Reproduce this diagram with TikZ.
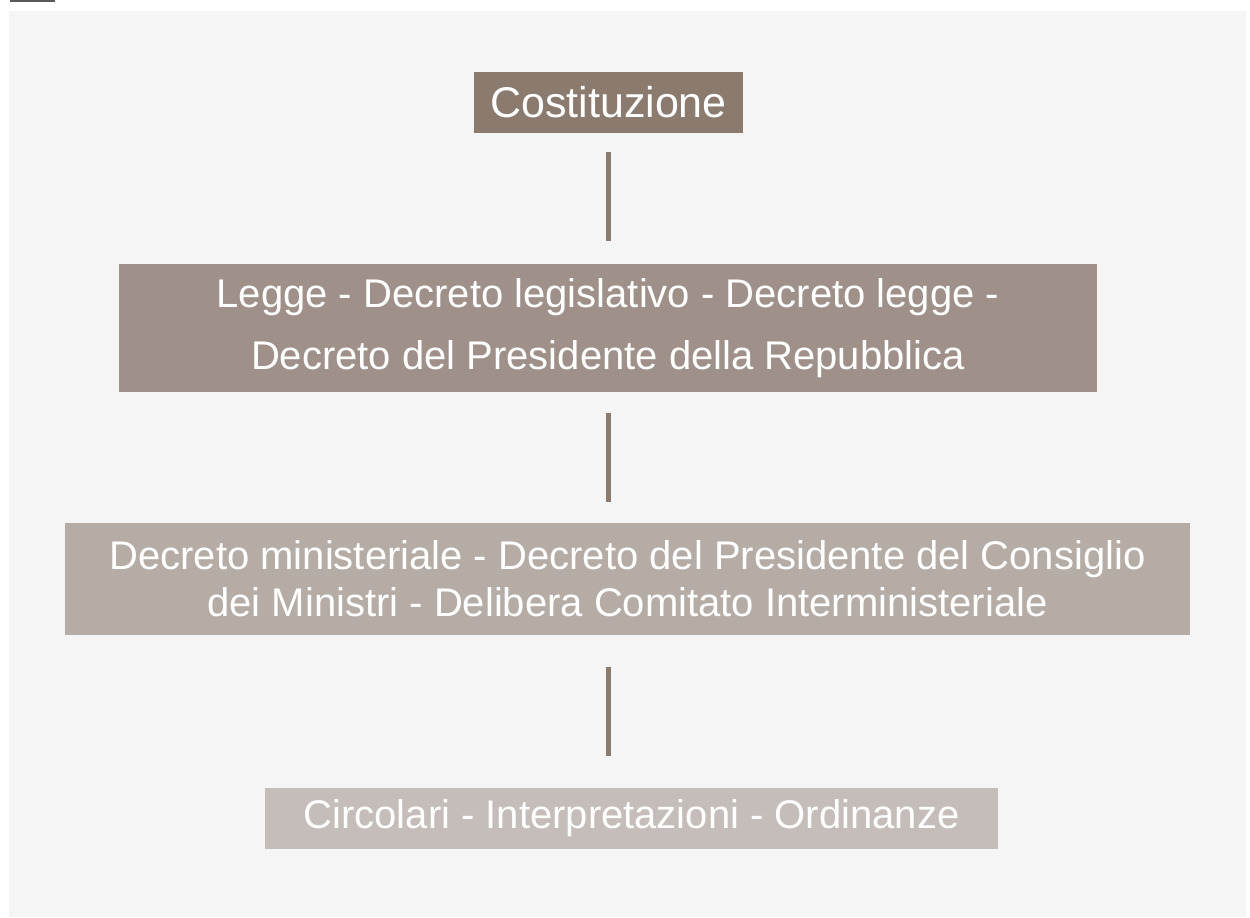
\documentclass[tikz,border=0pt]{standalone}
\usepackage{fontspec}
\setmainfont{Liberation Sans}
\definecolor{panel}{HTML}{F5F5F5}
\definecolor{cA}{HTML}{8B7A6E}
\definecolor{cB}{HTML}{9F918A}
\definecolor{cC}{HTML}{B5ACA6}
\definecolor{cD}{HTML}{C5BDB9}
\begin{document}
\begin{tikzpicture}[x=1pt,y=-1pt,
  lvbox/.style={inner sep=0pt, outer sep=0pt, text=white, align=center, anchor=center},
  conn/.style={draw=cA, line width=5pt, line cap=butt}]
\useasboundingbox (0,0) rectangle (1250,918);
\fill[white] (0,0) rectangle (1250,918);
\fill[panel] (9,11) rectangle (1246,917);
\fill[black!65] (10,0) rectangle (55,1.5);
\node[lvbox, fill=cA, minimum width=269pt, minimum height=61pt,
  font=\fontsize{43}{50}\selectfont] (costituzione) at (608.5,102.5) {Costituzione};
\node[lvbox, fill=cB, minimum width=978pt, minimum height=128pt,
  font=\fontsize{40}{62}\selectfont] (legge) at (608,328)
  {Legge - Decreto legislativo - Decreto legge -\\Decreto del Presidente della Repubblica};
\node[lvbox, fill=cC, minimum width=1125pt, minimum height=112pt,
  font=\fontsize{40}{47}\selectfont] (decreto) at (627.5,579)
  {Decreto ministeriale - Decreto del Presidente del Consiglio\\dei Ministri - Delibera Comitato Interministeriale};
\node[lvbox, fill=cD, minimum width=733pt, minimum height=61pt,
  font=\fontsize{40}{48}\selectfont] (circolari) at (631.5,818.5)
  {Circolari - Interpretazioni - Ordinanze};
\draw[conn, shorten <=19pt, shorten >=23pt] (costituzione.south) -- (costituzione.south |- legge.north);
\draw[conn, shorten <=21pt, shorten >=21pt] (legge.south) -- (legge.south |- decreto.north);
\draw[conn, shorten <=32pt, shorten >=32pt] (legge.south |- decreto.south) -- (legge.south |- circolari.north);
\end{tikzpicture}
\end{document}
